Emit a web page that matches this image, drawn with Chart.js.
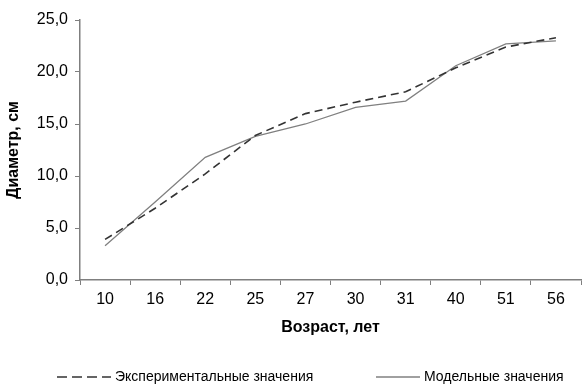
<!DOCTYPE html>
<html>
<head>
<meta charset="utf-8">
<script src="https://cdn.jsdelivr.net/npm/chart.js@4.4.1/dist/chart.umd.min.js"></script>
<style>
  html, body { margin: 0; padding: 0; background: #fff; }
  #wrap { width: 582px; height: 387px; }
</style>
</head>
<body>
<div id="wrap"><canvas id="c" width="582" height="387"></canvas></div>
<script>
// Age groups (years)
const ages = ['10', '16', '22', '25', '27', '30', '31', '40', '51', '56'];
// Measured trunk diameter, cm
const experimental = [3.9, 6.9, 10.2, 13.9, 16.0, 17.1, 18.1, 20.4, 22.4, 23.3];
// Model diameter, cm
const model = [3.3, 7.5, 11.8, 13.8, 15.0, 16.6, 17.2, 20.6, 22.7, 23.0];
const seriesNames = ['Экспериментальные значения', 'Модельные значения'];

const FONT = 'Liberation Sans, Arial, sans-serif';
const AXIS = '#7f7f7f';

// Legend row drawn under the chart, two entries spread apart
const bottomLegend = {
  id: 'bottomLegend',
  afterDraw(chart) {
    const ctx = chart.ctx;
    const y = 377;
    const items = [
      { ds: chart.data.datasets[0], x0: 57, x1: 111, dash: [10, 5] },
      { ds: chart.data.datasets[1], x0: 376, x1: 420, dash: [] }
    ];
    ctx.save();
    ctx.font = '14px ' + FONT;
    ctx.textBaseline = 'middle';
    ctx.fillStyle = '#000';
    items.forEach(it => {
      ctx.beginPath();
      ctx.setLineDash(it.dash);
      ctx.strokeStyle = it.ds.borderColor;
      ctx.lineWidth = it.ds.borderWidth;
      ctx.moveTo(it.x0, y);
      ctx.lineTo(it.x1, y);
      ctx.stroke();
      ctx.setLineDash([]);
      ctx.fillText(it.ds.label, it.x1 + 4, y);
    });
    ctx.restore();
  }
};

new Chart(document.getElementById('c'), {
  type: 'line',
  data: {
    labels: ages,
    datasets: [
      {
        label: seriesNames[0],
        data: experimental,
        borderColor: '#333333',
        borderWidth: 1.6,
        borderDash: [8, 5],
        pointRadius: 0,
        tension: 0,
        fill: false
      },
      {
        label: seriesNames[1],
        data: model,
        borderColor: '#808080',
        borderWidth: 1.3,
        pointRadius: 0,
        tension: 0,
        fill: false
      }
    ]
  },
  options: {
    responsive: false,
    animation: false,
    devicePixelRatio: 1,
    layout: { padding: { top: 20, right: 1, bottom: 47, left: 0 } },
    plugins: {
      legend: { display: false },
      tooltip: { enabled: false }
    },
    scales: {
      x: {
        offset: true,
        afterFit: s => { s.height = 60; },
        grid: {
          offset: true,
          drawOnChartArea: false,
          drawTicks: true,
          tickLength: 5,
          color: AXIS,
          lineWidth: 1
        },
        border: { color: AXIS, width: 1.5 },
        ticks: {
          color: '#000',
          font: { family: FONT, size: 16 },
          padding: 5,
          maxRotation: 0,
          autoSkip: false
        },
        title: {
          display: true,
          text: 'Возраст, лет',
          color: '#000',
          font: { family: FONT, size: 16, weight: 'bold' },
          padding: { top: 0, bottom: 3 }
        }
      },
      y: {
        min: 0,
        max: 25,
        afterFit: s => { s.width = 80; },
        grid: {
          drawOnChartArea: false,
          drawTicks: true,
          tickLength: 5,
          color: AXIS,
          lineWidth: 1
        },
        border: { color: AXIS, width: 1.5 },
        ticks: {
          stepSize: 5,
          color: '#000',
          font: { family: FONT, size: 16 },
          padding: 7,
          callback: v => v.toFixed(1).replace('.', ',')
        },
        title: {
          display: true,
          text: 'Диаметр, см',
          color: '#000',
          font: { family: FONT, size: 16, weight: 'bold' },
          padding: { top: 4, bottom: 0 }
        }
      }
    }
  },
  plugins: [bottomLegend]
});
</script>
</body>
</html>
